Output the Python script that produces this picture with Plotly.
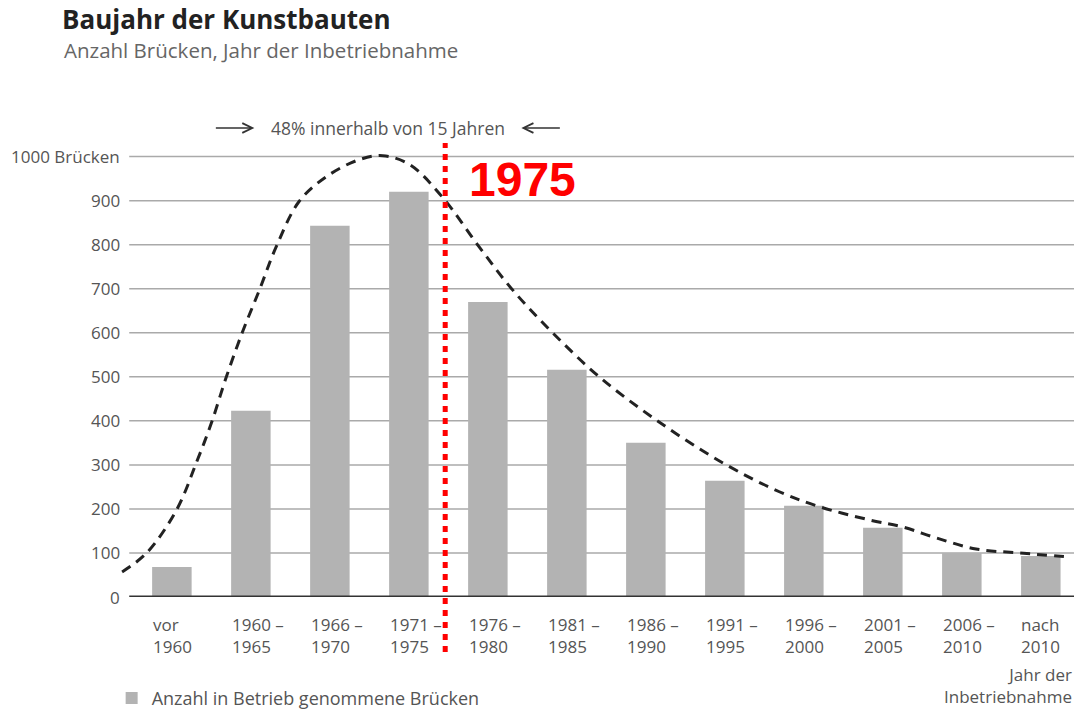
import plotly.graph_objects as go

categories = ["vor<br>1960", "1960 –<br>1965", "1966 –<br>1970", "1971 –<br>1975",
              "1976 –<br>1980", "1981 –<br>1985", "1986 –<br>1990", "1991 –<br>1995",
              "1996 –<br>2000", "2001 –<br>2005", "2006 –<br>2010", "nach<br>2010"]
bridges = [68, 423, 843, 920, 670, 516, 350, 264, 207, 157, 100, 93]

# dashed trend curve (x in category-position units)
curve_x = [-0.63, -0.32, 0.06, 0.31, 0.50, 0.69, 0.89, 1.11, 1.32, 1.61, 1.96, 2.37,
           2.67, 3.01, 3.42, 3.89, 4.31, 4.82, 5.41, 6.13, 6.97, 7.69, 8.20, 8.83,
           9.25, 9.68, 10.18, 10.73, 11.36]
curve_y = [57, 100, 198, 305, 395, 500, 600, 698, 795, 898, 955, 993,
           1002, 982, 909, 795, 698, 600, 500, 402, 305, 239, 205, 175,
           159, 134, 109, 100, 91]

y_ticks = [0, 100, 200, 300, 400, 500, 600, 700, 800, 900, 1000]
y_labels = ["0", "100", "200", "300", "400", "500", "600", "700", "800", "900", "1000 Brücken"]

marker_year_pos = 3.46
FONT = "Open Sans"
GREY = "#555555"

xs = list(range(len(categories)))

fig = go.Figure()
fig.add_trace(go.Bar(x=xs, y=bridges, width=0.5, marker=dict(color="#b3b3b3", line=dict(width=0)),
                     name="Anzahl in Betrieb genommene Brücken", showlegend=True))
fig.add_trace(go.Scatter(x=curve_x, y=curve_y, mode="lines",
                         line=dict(color="#222222", width=3, dash="10px,7px", shape="spline", smoothing=1),
                         showlegend=False, hoverinfo="skip"))

X0, X1 = -0.54, 11.42
shapes = []
for t in y_ticks[1:]:
    shapes.append(dict(type="line", xref="x", yref="y", x0=X0, x1=X1, y0=t, y1=t,
                       line=dict(color="#aaaaaa", width=1.5), layer="below"))
shapes.append(dict(type="line", xref="x", yref="y", x0=X0, x1=X1, y0=0, y1=0,
                   line=dict(color="#333333", width=3), layer="above"))
shapes.append(dict(type="line", xref="x", yref="paper", x0=marker_year_pos, x1=marker_year_pos,
                   y0=-0.12, y1=0.991, line=dict(color="#ff0000", width=5, dash="6px,6px"), layer="above"))

ann = []
for t, lab in zip(y_ticks, y_labels):
    ann.append(dict(x=0.0073, xref="paper", y=t, yref="y", text=lab, showarrow=False,
                    xanchor="right", yanchor="middle", font=dict(family=FONT, size=17, color=GREY)))
for i, lab in enumerate(categories):
    ann.append(dict(x=i - 0.27, xref="x", y=-0.03, yref="paper", text=lab, showarrow=False,
                    xanchor="left", yanchor="top", align="left",
                    font=dict(family=FONT, size=17, color=GREY)))
ann.append(dict(x=1, xref="paper", y=-0.139, yref="paper", text="Jahr der<br>Inbetriebnahme",
                showarrow=False, xanchor="right", yanchor="top", align="right",
                font=dict(family=FONT, size=17, color=GREY)))
# top annotation with arrows
ann.append(dict(x=2.73, xref="x", y=1.024, yref="paper", text="48% innerhalb von 15 Jahren",
                showarrow=False, xanchor="center", yanchor="middle",
                font=dict(family=FONT, size=17.5, color=GREY)))
ann.append(dict(x=1.044, xref="x", y=1.024, yref="paper", text="", showarrow=True,
                ax=-40, ay=0, arrowhead=5, arrowsize=1.5, arrowwidth=1.3, arrowcolor="#333333"))
ann.append(dict(x=4.424, xref="x", y=1.024, yref="paper", text="", showarrow=True,
                ax=40, ay=0, arrowhead=5, arrowsize=1.5, arrowwidth=1.3, arrowcolor="#333333"))
# red year label
ann.append(dict(x=4.437, xref="x", y=947, yref="y", text="<b>1975</b>", showarrow=False,
                xanchor="center", yanchor="middle",
                font=dict(family="Liberation Sans", size=48, color="#ff0000")))
# subtitle
ann.append(dict(x=(62 - 115) / 959, xref="paper", y=1, yref="paper", yshift=139 - 50,
                text="Anzahl Brücken, Jahr der Inbetriebnahme", showarrow=False,
                xanchor="left", yanchor="middle", font=dict(family=FONT, size=20.5, color="#666666")))

fig.update_layout(
    width=1074, height=711,
    margin=dict(l=115, r=0, t=139, b=114, autoexpand=False),
    paper_bgcolor="white", plot_bgcolor="white",
    xaxis=dict(range=[-0.72, 11.42], showgrid=False, zeroline=False, showticklabels=False,
               showline=False, ticks="", fixedrange=True),
    yaxis=dict(range=[0, 1040], showgrid=False, zeroline=False, showticklabels=False,
               showline=False, ticks="", fixedrange=True),
    shapes=shapes,
    annotations=ann,
    legend=dict(orientation="h", x=-0.0035, xanchor="left", y=-0.221, yanchor="middle",
                font=dict(family=FONT, size=18, color=GREY), bgcolor="rgba(0,0,0,0)"),
    title=dict(text="<b>Baujahr der Kunstbauten</b>", x=62 / 1074, xanchor="left",
               y=1 - 20 / 711, yanchor="middle", font=dict(family=FONT, size=26, color="#222222")),
    showlegend=True,
)

fig.write_html("out.html", config={"displayModeBar": False},
               post_script="document.body.style.margin='0';document.body.style.padding='0';")
